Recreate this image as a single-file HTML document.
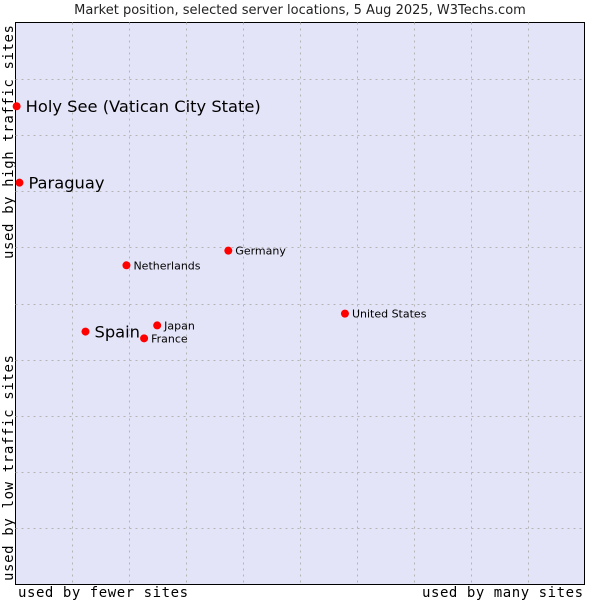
<!DOCTYPE html>
<html><head><meta charset="utf-8"><style>
body{margin:0;background:#fff;}
svg{display:block;}
</style></head><body>
<svg id="chart" width="600" height="600" xmlns="http://www.w3.org/2000/svg">
<text x="300" y="14" text-anchor="middle" font-family="DejaVu Sans, sans-serif" font-size="13" fill="#222">Market position, selected server locations, 5 Aug 2025, W3Techs.com</text>
<rect x="15.5" y="22.5" width="569" height="562" fill="#e4e4f8" stroke="#000" stroke-width="1"/>
<g id="grid"></g>
<g id="points"></g>
<text x="18" y="597" textLength="170" lengthAdjust="spacing" font-family="DejaVu Sans Mono, monospace" font-size="14" fill="#000">used by fewer sites</text>
<text x="422" y="597" textLength="161" lengthAdjust="spacing" font-family="DejaVu Sans Mono, monospace" font-size="14" fill="#000">used by many sites</text>
<text transform="translate(13,581) rotate(-90)" textLength="226" lengthAdjust="spacing" font-family="DejaVu Sans Mono, monospace" font-size="14" fill="#000">used by low traffic sites</text>
<text transform="translate(13,259) rotate(-90)" textLength="234" lengthAdjust="spacing" font-family="DejaVu Sans Mono, monospace" font-size="14" fill="#000">used by high traffic sites</text>
</svg>
<script>
const names = ["Holy See (Vatican City State)","Paraguay","Netherlands","Germany","United States","Spain","Japan","France"];
const xValues = [0.2,0.7,19.5,37.4,57.9,12.3,24.9,22.6];
const yValues = [85.1,71.5,56.8,59.4,48.2,45.0,46.1,43.8];
const highlighted = [true,true,false,false,false,true,false,false];
const X0=15.5,X1=584.5,Y0=584.5,Y1=22.5;
const sx=v=>X0+(X1-X0)*v/100, sy=v=>Y0-(Y0-Y1)*v/100;
const NS="http://www.w3.org/2000/svg";
const grid=document.getElementById('grid');
for(let i=1;i<10;i++){
  const l=document.createElementNS(NS,'line');
  
  
  const x=Math.round(sx(i*10))+0.5;
  l.setAttribute('x1',x);l.setAttribute('x2',x);l.setAttribute('y1',Y1);l.setAttribute('y2',Y0);
  l.setAttribute('stroke','#b4b4b4');l.setAttribute('stroke-dasharray','2,4');
  grid.appendChild(l);
  const h=document.createElementNS(NS,'line');
  
  
  const y=Math.round(sy(i*10))+0.5;
  h.setAttribute('x1',X0);h.setAttribute('x2',X1);h.setAttribute('y1',y);h.setAttribute('y2',y);
  h.setAttribute('stroke','#b4b4b4');h.setAttribute('stroke-dasharray','2,4');
  grid.appendChild(h);
}
const pts=document.getElementById('points');
names.forEach((n,i)=>{
  const x=sx(xValues[i]), y=sy(yValues[i]);
  const c=document.createElementNS(NS,'circle');
  
  
  c.setAttribute('cx',x);c.setAttribute('cy',y);c.setAttribute('r',4);c.setAttribute('fill','#f00');
  pts.appendChild(c);
  const t=document.createElementNS(NS,'text');
  
  
  const big=highlighted[i];
  t.setAttribute('x',x+(big?9:7));t.setAttribute('y',y+(big?6:4));
  t.setAttribute('font-family','DejaVu Sans, sans-serif');
  t.setAttribute('font-size',big?16.3:11);
  t.setAttribute('fill','#000');
  t.textContent=n;
  pts.appendChild(t);
});
</script>
</body></html>
